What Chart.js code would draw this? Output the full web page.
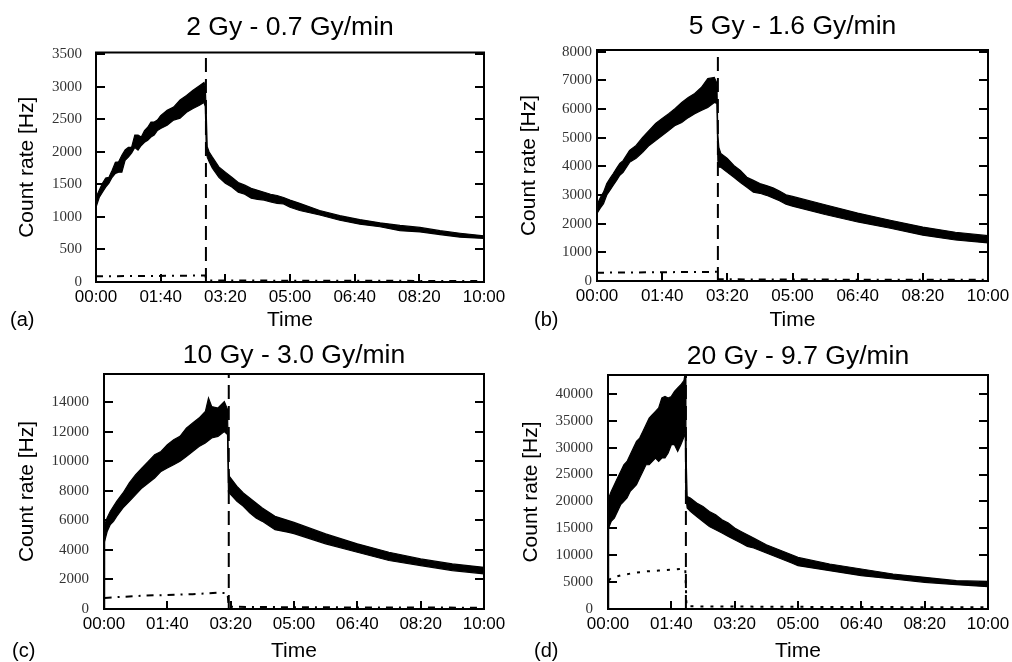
<!DOCTYPE html>
<html>
<head>
<meta charset="utf-8">
<script src="https://cdn.jsdelivr.net/npm/chart.js@4/dist/chart.umd.min.js"></script>
<style>
  body { margin: 0; background: #fff; }
  #wrap { position: relative; width: 1012px; height: 662px; }
  canvas { position: absolute; }
</style>
</head>
<body>
<div id="wrap">
  <canvas id="cA" width="506" height="331" style="left:0;top:0"></canvas>
  <canvas id="cB" width="506" height="331" style="left:506px;top:0"></canvas>
  <canvas id="cC" width="506" height="331" style="left:0;top:331px"></canvas>
  <canvas id="cD" width="506" height="331" style="left:506px;top:331px"></canvas>
</div>
<script>
// time axis in minutes, labels every 100 min
const timeTicks = [0, 100, 200, 300, 400, 500, 600];
const timeLabels = ['00:00', '01:40', '03:20', '05:00', '06:40', '08:20', '10:00'];

// (a) 2 Gy - 0.7 Gy/min : count rate band (upper / lower edge of the noisy trace)
const titleA = '2 Gy - 0.7 Gy/min';
const tA  = [0, 5, 10, 15, 20, 25, 30, 35, 40, 45, 50, 55, 60, 65, 70, 75, 80, 85, 90, 95, 100, 110, 120, 130, 140, 150, 160, 167, 169, 170.5, 172, 175, 180, 190, 200, 210, 220, 230, 240, 250, 260, 270, 280, 290, 300, 315, 346, 377, 408, 439, 470, 501, 532, 563, 600];
const hiA = [1300, 1410, 1520, 1600, 1610, 1720, 1840, 1850, 1950, 2030, 2070, 2070, 2260, 2260, 2230, 2330, 2380, 2460, 2460, 2490, 2560, 2640, 2690, 2800, 2870, 2950, 3020, 3070, 3000, 2600, 2080, 2000, 1920, 1770, 1690, 1610, 1530, 1490, 1440, 1410, 1380, 1350, 1330, 1300, 1260, 1210, 1100, 1020, 960, 910, 870, 840, 790, 750, 710];
const loA = [1150, 1300, 1380, 1460, 1520, 1610, 1670, 1690, 1690, 1870, 1920, 1980, 2070, 2030, 2100, 2150, 2180, 2230, 2260, 2330, 2360, 2410, 2490, 2520, 2610, 2670, 2720, 2760, 2700, 2050, 1920, 1850, 1750, 1610, 1520, 1460, 1380, 1350, 1290, 1270, 1260, 1230, 1210, 1200, 1150, 1100, 1030, 950, 890, 850, 790, 770, 730, 690, 670];
const tmA = [0, 60, 120, 169, 171, 300, 450, 600];
const monA = [88, 92, 95, 100, 25, 20, 18, 15];
const endA = 170;
const yTicksA = [0, 500, 1000, 1500, 2000, 2500, 3000, 3500];

// (b) 5 Gy - 1.6 Gy/min
const titleB = '5 Gy - 1.6 Gy/min';
const tB  = [0, 5, 10, 15, 20, 25, 30, 35, 40, 50, 60, 70, 80, 90, 100, 110, 120, 130, 140, 150, 160, 170, 180, 184, 185.5, 187, 190, 200, 210, 220, 230, 240, 250, 260, 270, 280, 290, 300, 350, 400, 450, 500, 550, 600];
const hiB = [2650, 2900, 3100, 3400, 3580, 3750, 3930, 4100, 4200, 4560, 4730, 5010, 5250, 5500, 5670, 5840, 6020, 6230, 6400, 6540, 6750, 7060, 7100, 6900, 5100, 4660, 4450, 4280, 4030, 3860, 3620, 3510, 3400, 3330, 3250, 3140, 3010, 2950, 2660, 2370, 2120, 1880, 1700, 1580];
const loB = [2360, 2540, 2700, 3000, 3170, 3340, 3510, 3690, 3790, 4140, 4280, 4490, 4730, 4900, 5080, 5250, 5430, 5530, 5700, 5840, 5950, 6050, 6230, 6200, 4200, 3970, 3970, 3790, 3620, 3440, 3270, 3100, 3060, 2990, 2900, 2800, 2680, 2610, 2320, 2060, 1840, 1600, 1430, 1330];
const tmB = [0, 60, 120, 184, 186, 300, 450, 600];
const monB = [290, 300, 310, 320, 60, 50, 45, 40];
const endB = 185.5;
const yTicksB = [0, 1000, 2000, 3000, 4000, 5000, 6000, 7000, 8000];

// (c) 10 Gy - 3.0 Gy/min
const titleC = '10 Gy - 3.0 Gy/min';
const tC  = [0, 1, 5, 10, 15, 20, 30, 40, 50, 60, 70, 80, 90, 100, 110, 120, 130, 140, 150, 160, 165, 170, 180, 190, 195, 196.5, 198, 210, 220, 230, 240, 250, 270, 290, 300, 350, 400, 450, 500, 550, 600];
const hiC = [4600, 5700, 6180, 6610, 6950, 7280, 7850, 8530, 9090, 9540, 9990, 10440, 10660, 11110, 11450, 11680, 12240, 12580, 12920, 13360, 14270, 13700, 13600, 14040, 13500, 9500, 8970, 8300, 7850, 7510, 7170, 6840, 6270, 6000, 5860, 5080, 4410, 3840, 3390, 3050, 2820];
const loC = [0, 4580, 5240, 5710, 5930, 6270, 6840, 7280, 7740, 8190, 8530, 8860, 9310, 9540, 9760, 9990, 10320, 10660, 11000, 11230, 11400, 11570, 11680, 12010, 11800, 7900, 7850, 7280, 6950, 6500, 6160, 5930, 5370, 5200, 5100, 4410, 3840, 3280, 2940, 2600, 2380];
const tmC = [1, 20, 60, 100, 140, 180, 195, 197, 300, 450, 600];
const monC = [750, 800, 900, 950, 1000, 1100, 1080, 150, 120, 100, 90];
const endC = 197;
const yTicksC = [0, 2000, 4000, 6000, 8000, 10000, 12000, 14000];

// (d) 20 Gy - 9.7 Gy/min
const titleD = '20 Gy - 9.7 Gy/min';
const tD  = [0, 1, 5, 10, 15, 20, 25, 30, 35, 40, 45, 50, 55, 60, 65, 70, 75, 80, 85, 90, 95, 100, 105, 110, 115, 120, 122, 123, 125, 130, 140, 150, 160, 170, 180, 190, 200, 210, 220, 230, 250, 270, 290, 300, 350, 400, 450, 500, 550, 600];
const hiD = [17000, 20600, 21860, 23100, 24350, 25580, 26820, 27440, 28680, 29930, 31150, 31780, 33010, 34260, 35500, 36110, 36730, 37360, 39220, 39520, 39200, 39520, 40450, 41080, 41690, 42500, 44000, 30000, 20930, 20630, 19700, 19070, 18140, 17530, 16600, 15980, 15060, 14420, 13810, 13200, 11950, 11020, 10090, 9590, 8360, 7430, 6510, 5880, 5260, 5130];
const loD = [0, 15060, 16280, 16910, 18140, 19390, 20000, 20630, 21860, 22490, 23100, 24350, 25580, 26820, 26820, 27440, 28070, 27440, 28070, 28070, 29000, 30540, 30540, 29300, 30540, 32000, 33000, 21000, 18770, 18140, 17210, 16280, 15350, 14740, 14130, 13500, 12880, 12270, 11640, 11340, 10410, 9480, 8550, 8050, 7120, 6190, 5580, 4950, 4520, 4150];
const tmD = [1, 5, 20, 40, 60, 80, 100, 120, 122, 124, 300, 450, 600];
const monD = [5300, 5760, 6250, 6690, 6990, 7150, 7300, 7490, 7500, 500, 400, 350, 300];
const endD = 123;
const yTicksD = [0, 5000, 10000, 15000, 20000, 25000, 30000, 35000, 40000];

// top of each y axis
const yMaxes = [3530, 8060, 15900, 43500];

Chart.defaults.font.family = '"Liberation Sans", Arial, sans-serif';
Chart.defaults.color = '#000';

const pts = (t, v) => t.map((x, i) => ({ x, y: v[i] }));

// frame, inward ticks, panel tag
const framePlugin = {
  id: 'frame',
  afterDatasetsDraw(chart, args, opts) {
    const { ctx, chartArea: a, scales: { x, y } } = chart;
    ctx.save();
    ctx.strokeStyle = '#000';
    ctx.lineWidth = 2;
    ctx.strokeRect(a.left, a.top, a.width, a.height);
    ctx.beginPath();
    y.ticks.forEach(tk => {
      const py = Math.round(y.getPixelForValue(tk.value));
      ctx.moveTo(a.left, py); ctx.lineTo(a.left + 9, py);
      ctx.moveTo(a.right, py); ctx.lineTo(a.right - 9, py);
    });
    x.ticks.forEach(tk => {
      const px = Math.round(x.getPixelForValue(tk.value));
      ctx.moveTo(px, a.bottom); ctx.lineTo(px, a.bottom - 8);
    });
    ctx.stroke();
    ctx.fillStyle = '#000';
    ctx.font = '20px "Liberation Sans", Arial, sans-serif';
    ctx.textBaseline = 'middle';
    ctx.textAlign = 'left';
    ctx.fillText(opts.tag, opts.tagX, 320);
    ctx.restore();
  }
};

function makePanel(id, tag, title, t, hi, lo, tm, mon, end, yTicks, k, box) {
  new Chart(document.getElementById(id), {
    type: 'line',
    data: {
      datasets: [
        { data: pts(t, hi), borderColor: '#000', backgroundColor: '#000', borderWidth: 1.2, fill: '+1', pointRadius: 0 },
        { data: pts(t, lo), borderColor: '#000', borderWidth: 1.2, fill: false, pointRadius: 0 },
        { data: pts(tm, mon), borderColor: '#000', borderWidth: 2, borderDash: k === 3 ? [3, 7] : [7, 6, 2, 6], fill: false, pointRadius: 0 },
        { data: pts([end, end], [0, yMaxes[k]]), borderColor: '#000', borderWidth: 2, borderDash: [14, 7], fill: false, pointRadius: 0 }
      ]
    },
    options: {
      responsive: false,
      animation: false,
      devicePixelRatio: 1,
      layout: { padding: { left: 0, right: box.right, top: 0, bottom: 0 } },
      plugins: {
        legend: { display: false },
        tooltip: { enabled: false },
        title: {
          display: true, text: title, fullSize: false,
          font: { size: 26.5, weight: 'normal', lineHeight: 1 },
          padding: { top: box.tp, bottom: box.tb }
        },
        frame: { tag, tagX: box.tagX }
      },
      scales: {
        x: {
          type: 'linear', min: 0, max: 600,
          grid: { display: false, drawTicks: false },
          border: { display: false },
          afterBuildTicks: s => { s.ticks = timeTicks.map(value => ({ value })); },
          afterFit: s => { s.height = box.xh; s.paddingLeft = 0; s.paddingRight = 0; },
          ticks: {
            autoSkip: false, maxRotation: 0, padding: 6.5,
            font: { size: 17, lineHeight: 1 },
            callback: v => timeLabels[timeTicks.indexOf(v)]
          },
          title: { display: true, text: 'Time', font: { size: 21, lineHeight: 1 }, padding: { top: 0, bottom: 0.5 } }
        },
        y: {
          type: 'linear', min: 0, max: yMaxes[k],
          grid: { display: false, drawTicks: false },
          border: { display: false },
          afterBuildTicks: s => { s.ticks = yTicks.map(value => ({ value })); },
          afterFit: s => { s.width = box.left; s.paddingTop = 0; s.paddingBottom = 0; },
          ticks: {
            autoSkip: false, padding: box.yPad,
            color: '#333',
            font: { family: '"Liberation Serif", "Times New Roman", serif', size: 15, lineHeight: 1 },
            callback: v => String(v)
          },
          title: { display: true, text: 'Count rate [Hz]', font: { size: 21, lineHeight: 1 }, padding: { top: box.yt, bottom: 0 } }
        }
      }
    },
    plugins: [framePlugin]
  });
}

makePanel('cA', '(a)', titleA, tA, hiA, loA, tmA, monA, endA, yTicksA, 0,
  { left: 96, right: 22, tp: 14, tb: 12, xh: 49, yPad: 14, yt: 16.5, tagX: 10 });
makePanel('cB', '(b)', titleB, tB, hiB, loB, tmB, monB, endB, yTicksB, 1,
  { left: 91, right: 24, tp: 13, tb: 10.5, xh: 50, yPad: 5, yt: 12.5, tagX: 28 });
makePanel('cC', '(c)', titleC, tC, hiC, loC, tmC, monC, endC, yTicksC, 2,
  { left: 104, right: 22, tp: 11, tb: 5.5, xh: 53, yPad: 15, yt: 16.5, tagX: 12 });
makePanel('cD', '(d)', titleD, tD, hiD, loD, tmD, monD, endD, yTicksD, 3,
  { left: 102, right: 24, tp: 12, tb: 5.5, xh: 53, yPad: 15, yt: 14.5, tagX: 28 });
</script>
</body>
</html>
